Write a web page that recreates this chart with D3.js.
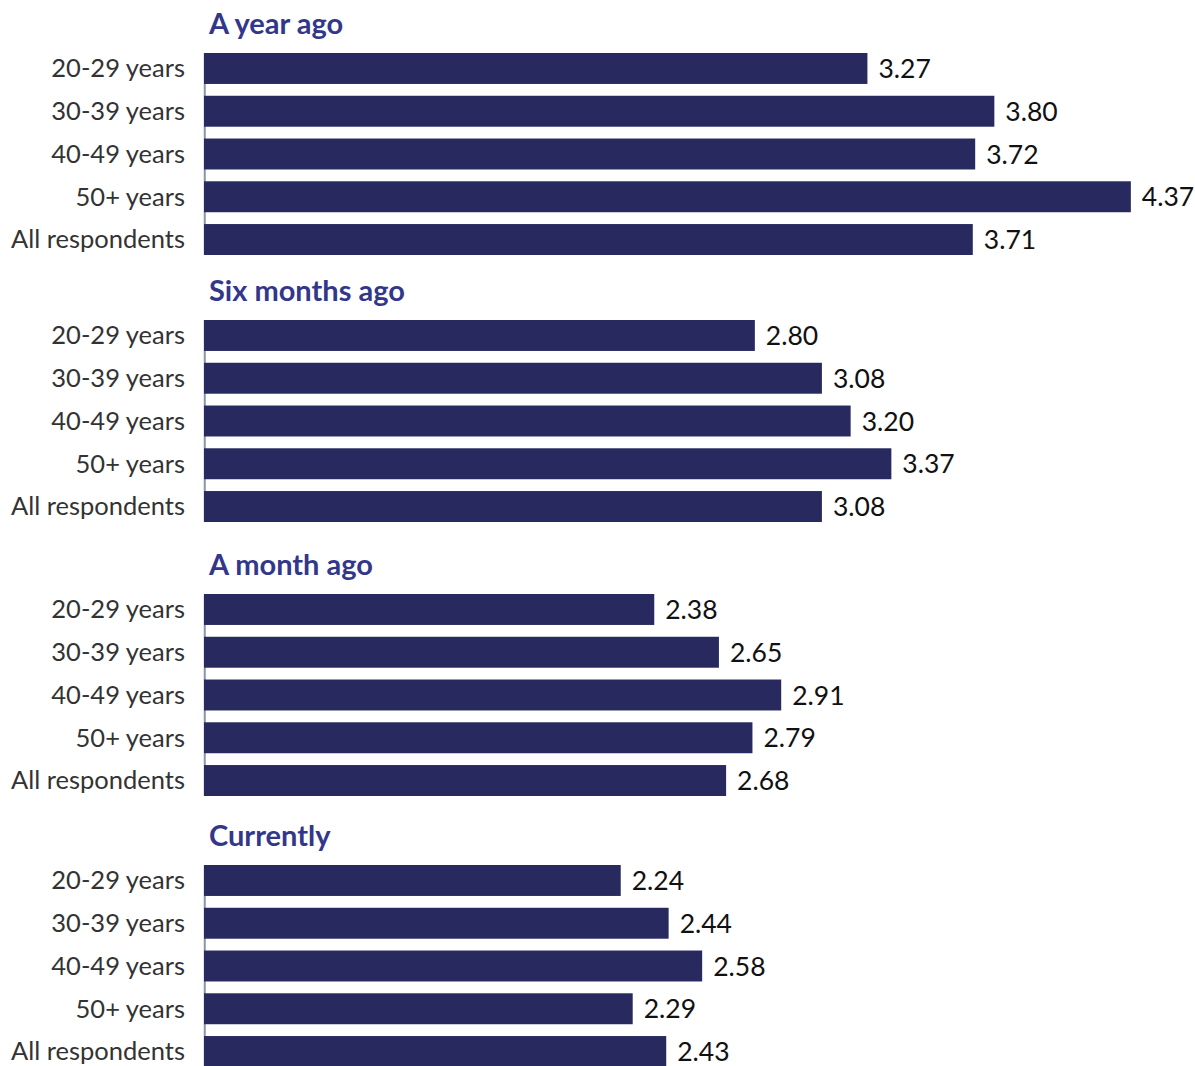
<!DOCTYPE html>
<html>
<head>
<meta charset="utf-8">
<script src="https://cdn.jsdelivr.net/npm/d3@7"></script>
<style>
  html, body { margin: 0; padding: 0; background: #fff; }
  svg { display: block; }
</style>
</head>
<body>
<svg id="chart" width="1195" height="1066"></svg>
<script>
// Age groups shown in every panel
const categories = ["20-29 years", "30-39 years", "40-49 years", "50+ years", "All respondents"];

// Panel titles (time points)
const periods = ["A year ago", "Six months ago", "A month ago", "Currently"];

// Mean scores per age group, one array per time point
const yearAgo      = [3.27, 3.80, 3.72, 4.37, 3.71];
const sixMonthsAgo = [2.80, 3.08, 3.20, 3.37, 3.08];
const monthAgo     = [2.38, 2.65, 2.91, 2.79, 2.68];
const currently    = [2.24, 2.44, 2.58, 2.29, 2.43];

const seriesValues = [yearAgo, sixMonthsAgo, monthAgo, currently];

// Value axis range
const xDomain = [0.5, 4.5];

const svg = d3.select("#chart");
const font = "Lato, 'Source Sans Pro', 'Noto Sans', sans-serif";

const x = d3.scaleLinear().domain(xDomain).range([204, 1162]);

const panelTops = [53, 320, 594, 865];
const panelHeight = 202;

const y = d3.scaleBand()
  .domain(categories)
  .range([0, panelHeight])
  .paddingInner(0.276)
  .paddingOuter(0);

periods.forEach((title, i) => {
  const g = svg.append("g").attr("transform", `translate(0,${panelTops[i]})`);
  const rows = categories.map((c, j) => ({ cat: c, value: seriesValues[i][j] }));

  // Panel title
  g.append("text")
    .attr("x", 209)
    .attr("y", -19)
    .attr("font-family", font)
    .attr("font-weight", 700)
    .attr("font-size", 29)
    .attr("fill", "#33378a")
    .text(title);

  // Baseline
  g.append("line")
    .attr("x1", x(xDomain[0]) + 0.75)
    .attr("x2", x(xDomain[0]) + 0.75)
    .attr("y1", 0)
    .attr("y2", panelHeight)
    .attr("stroke", "#8e90b3")
    .attr("stroke-width", 2);

  // Bars
  g.selectAll("rect.bar")
    .data(rows)
    .join("rect")
    .attr("class", "bar")
    .attr("x", x(xDomain[0]))
    .attr("y", d => y(d.cat))
    .attr("width", d => x(d.value) - x(xDomain[0]))
    .attr("height", y.bandwidth())
    .attr("fill", "#282a5f");

  // Category labels
  g.selectAll("text.cat")
    .data(rows)
    .join("text")
    .attr("class", "cat")
    .attr("x", 185)
    .attr("y", d => y(d.cat) + y.bandwidth() / 2)
    .attr("dy", "0.35em")
    .attr("text-anchor", "end")
    .attr("font-family", font)
    .attr("font-size", 25.5)
    .attr("fill", "#333")
    .text(d => d.cat);

  // Value labels
  g.selectAll("text.val")
    .data(rows)
    .join("text")
    .attr("class", "val")
    .attr("x", d => x(d.value) + 11)
    .attr("y", d => y(d.cat) + y.bandwidth() / 2)
    .attr("dy", "0.36em")
    .attr("font-family", font)
    .attr("font-size", 26.5)
    .attr("fill", "#111")
    .text(d => d.value.toFixed(2));
});
</script>
</body>
</html>
